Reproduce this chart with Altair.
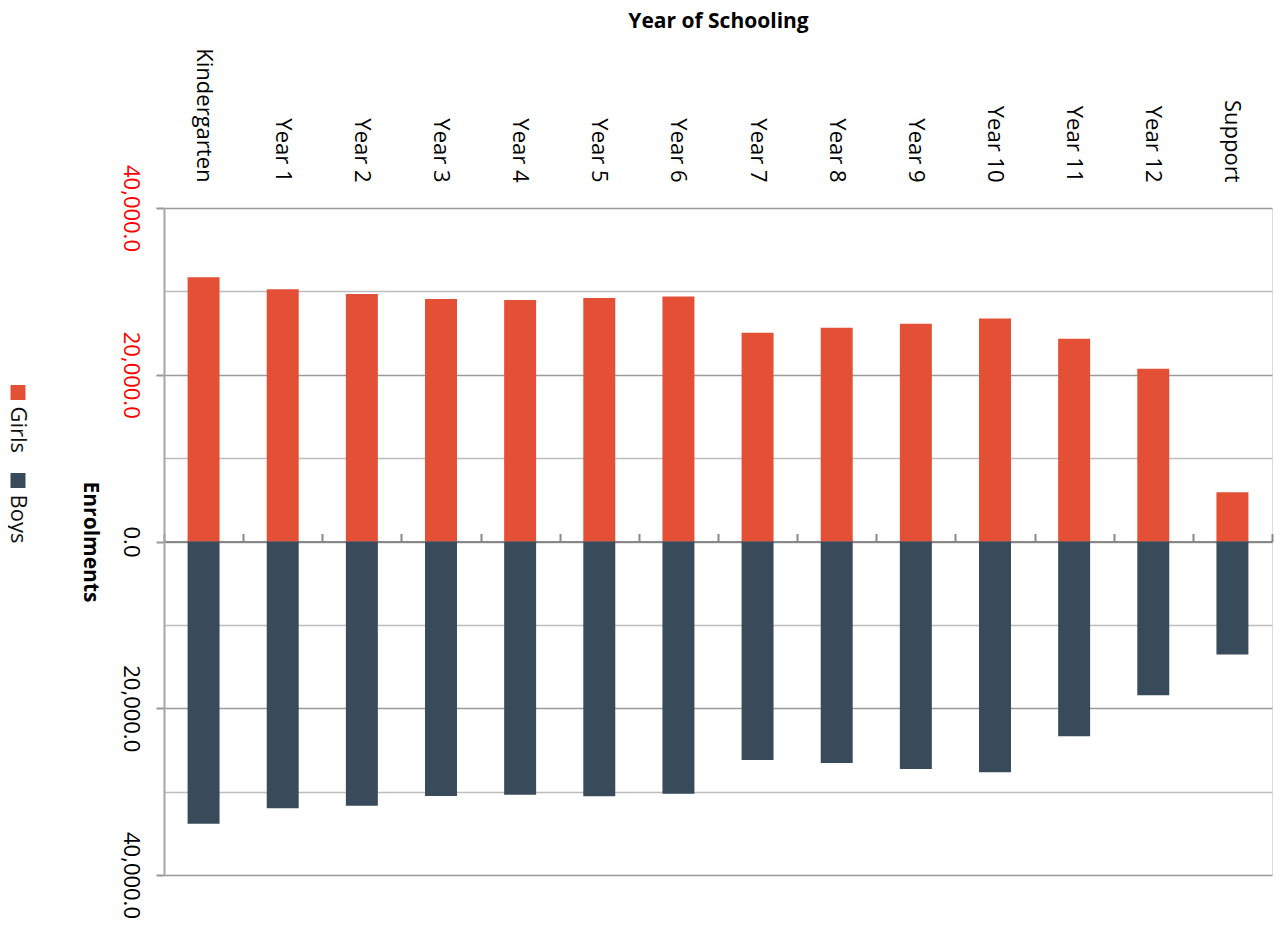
import altair as alt
import pandas as pd

categories = ["Kindergarten", "Year 1", "Year 2", "Year 3", "Year 4", "Year 5", "Year 6",
              "Year 7", "Year 8", "Year 9", "Year 10", "Year 11", "Year 12", "Support"]
girls = [31680, 30240, 29690, 29090, 28970, 29210, 29400, 25040, 25640, 26120, 26760, 24320, 20720, 5900]
boys = [33840, 31990, 31680, 30520, 30360, 30550, 30240, 26200, 26560, 27280, 27680, 23360, 18440, 13560]
series = ["Girls", "Boys"]
colors = ["#E45036", "#394B5A"]
y_ticks = [-40000, -30000, -20000, -10000, 0, 10000, 20000, 30000, 40000]

rows = []
for c, g, b in zip(categories, girls, boys):
    rows.append({"category": c, "series": "Girls", "value": g})
    rows.append({"category": c, "series": "Boys", "value": -b})
df = pd.DataFrame(rows)
legend_df = pd.DataFrame({"series": series})

FONT = "Open Sans"
H = 667
W = 1108

color_enc = alt.Color("series:N", scale=alt.Scale(domain=series, range=colors), legend=None)
x_scale = alt.Scale(paddingInner=0, paddingOuter=0)

bars = alt.Chart(df).mark_bar(width=alt.RelativeBandSize(0.404)).encode(
    x=alt.X("category:N", sort=categories, scale=x_scale,
            axis=alt.Axis(orient="top", labelAngle=90, labelAlign="right", labelBaseline="middle",
                          ticks=False, tickSize=0, domain=False, labelPadding=26,
                          labelFont=FONT, labelFontSize=22, labelColor="black",
                          title="Year of Schooling", titleFont=FONT, titleFontWeight="bold",
                          titleFontSize=21, titleColor="black", titleY=-187,
                          titleBaseline="middle", grid=False)),
    y=alt.Y("value:Q", scale=alt.Scale(domain=[-40000, 40000], nice=False, zero=True),
            axis=alt.Axis(values=y_ticks,
                          labelExpr="datum.value % 20000 == 0 ? format(abs(datum.value), ',.1f') : ''",
                          labelAngle=90, labelAlign="center", labelBaseline="top",
                          labelFont=FONT, labelFontSize=22, labelPadding=16,
                          labelColor={"condition": {"test": "datum.value > 0", "value": "#FF0000"},
                                      "value": "black"},
                          tickSize=8, tickWidth=2,
                          tickColor={"condition": {"test": "datum.value % 20000 == 0", "value": "#999999"},
                                     "value": "transparent"},
                          grid=True, gridWidth=1.5,
                          gridColor={"condition": {"test": "datum.value % 20000 == 0", "value": "#9a9a9a"},
                                     "value": "#bdbdbd"},
                          domain=True, domainColor="#a6a6a6", domainWidth=2,
                          title="Enrolments", titleAngle=90, titleFont=FONT, titleFontWeight="bold",
                          titleFontSize=21, titleColor="black", titleX=-75, titleY=H / 2,
                          titleAlign="center", titleBaseline="middle")),
    color=color_enc,
)

zero_axis = alt.Chart(df).mark_bar(opacity=0).encode(
    x=alt.X("category:N", sort=categories, scale=x_scale,
            axis=alt.Axis(orient="top", offset=-H / 2, labels=False, title=None, ticks=True,
                          tickBand="extent", tickSize=8, tickColor="#888888", tickWidth=2,
                          domain=True, domainColor="#888888", domainWidth=2, grid=False)),
    y=alt.Y("value:Q", scale=alt.Scale(domain=[-40000, 40000], nice=False), axis=None),
)

legend_y = alt.Y("series:N", scale=alt.Scale(type="point", domain=series, range=[184.5, 272.5], padding=0),
                 axis=None)
legend_sq = alt.Chart(legend_df).mark_square(size=225, opacity=1).encode(
    x=alt.value(-146), y=legend_y, color=color_enc,
)
legend_txt = alt.Chart(legend_df).mark_text(angle=90, align="left", baseline="middle", dx=14,
                                            font=FONT, fontSize=22, color="#111111").encode(
    x=alt.value(-146), y=legend_y, text="series:N",
)

chart = alt.layer(bars, zero_axis, legend_sq, legend_txt).resolve_axis(
    x="independent"
).resolve_scale(
    y="independent"
).properties(
    width=W, height=H,
    autosize=alt.AutoSizeParams(type="none"),
    padding={"left": 156, "top": 200, "right": 3, "bottom": 45},
).configure_view(stroke=None).configure(font=FONT)

chart.save("out.html", embed_options={"renderer": "svg", "actions": False})
